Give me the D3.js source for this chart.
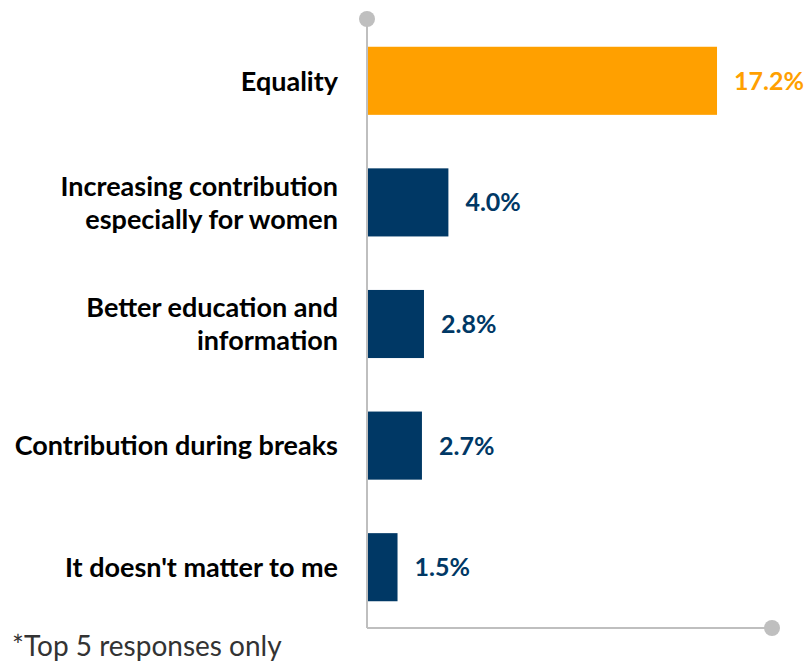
<!DOCTYPE html>
<html lang="en">
  <head>
    <meta charset="UTF-8" />
    <title>Top 5 responses</title>
    <script src="https://cdn.jsdelivr.net/npm/d3@7"></script>
    <style>
      body { margin: 0; background: #fff; }
      svg { display: block; font-family: Lato, 'Open Sans', sans-serif; }
    </style>
  </head>
  <body>
    <div class="chart"></div>
    <script>
      // 数据
      var categories = [
        ['Equality'],
        ['Increasing contribution', 'especially for women'],
        ['Better education and', 'information'],
        ['Contribution during breaks'],
        ["It doesn't matter to me"]
      ]
      var values = [17.2, 4.0, 2.8, 2.7, 1.5]
      var highlight = [true, false, false, false, false]
      var footnote = '*Top 5 responses only'

      var width = 810, height = 663
      var orange = '#ffa000', navy = '#003865', grey = '#bfbfbf'

      var svg = d3.select('.chart').append('svg').attr('width', width).attr('height', height)

      var idx = d3.range(values.length)
      var y = d3.scaleBand().domain(idx).range([20, 628]).paddingInner(0.44).paddingOuter(0.22)
      var x = d3.scaleLinear().domain([0, 20]).range([367, 774])

      // 坐标轴
      svg.append('line').attr('x1', x(0)).attr('x2', x(0)).attr('y1', 19).attr('y2', 628)
        .attr('stroke', grey).attr('stroke-width', 2)
      svg.append('line').attr('x1', x(0)).attr('x2', 772).attr('y1', 628).attr('y2', 628)
        .attr('stroke', grey).attr('stroke-width', 2)
      svg.append('circle').attr('cx', x(0)).attr('cy', 19).attr('r', 8).attr('fill', grey)
      svg.append('circle').attr('cx', 772).attr('cy', 628).attr('r', 8).attr('fill', grey)

      // 柱子
      svg.selectAll('rect.bar').data(idx).enter().append('rect')
        .attr('class', 'bar')
        .attr('x', x(0) + 1)
        .attr('y', (i) => y(i))
        .attr('width', (i) => x(values[i]) - x(0) - 1)
        .attr('height', y.bandwidth())
        .attr('fill', (i) => (highlight[i] ? orange : navy))

      // 数值标签
      svg.selectAll('text.val').data(idx).enter().append('text')
        .attr('class', 'val')
        .attr('x', (i) => x(values[i]) + 17)
        .attr('y', (i) => y(i) + y.bandwidth() / 2)
        .attr('dy', '0.36em')
        .attr('font-size', 25)
        .attr('font-weight', 'bold')
        .attr('fill', (i) => (highlight[i] ? orange : navy))
        .text((i) => values[i].toFixed(1) + '%')

      // 类别标签
      var lh = 33
      svg.selectAll('text.cat').data(idx).enter().append('text')
        .attr('class', 'cat')
        .attr('text-anchor', 'end')
        .attr('font-size', 27)
        .attr('font-weight', 'bold')
        .attr('fill', '#000')
        .each(function (i) {
          var lines = categories[i]
          var cy = y(i) + y.bandwidth() / 2 - ((lines.length - 1) * lh) / 2
          d3.select(this).selectAll('tspan').data(lines).enter().append('tspan')
            .attr('x', 338)
            .attr('y', (d, k) => cy + k * lh)
            .attr('dy', '0.36em')
            .text((d) => d)
        })

      svg.append('text').attr('x', 12).attr('y', 656)
        .attr('font-size', 28).attr('fill', '#333')
        .text(footnote)
    </script>
  </body>
</html>
